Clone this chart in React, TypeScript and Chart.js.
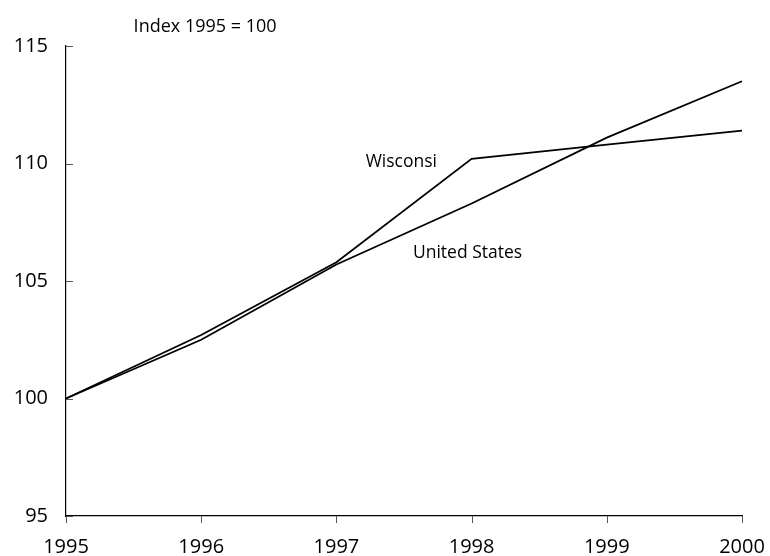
import React, { useEffect, useRef } from "react";
import { Chart, registerables } from "chart.js";

Chart.register(...registerables);

const years = ["1995", "1996", "1997", "1998", "1999", "2000"];
const wisconsin = [100, 102.7, 105.8, 110.2, 110.8, 111.4];
const unitedStates = [100, 102.5, 105.7, 108.3, 111.1, 113.5];
const yTicks = [95, 100, 105, 110, 115];
const FONT = "'Open Sans', 'DejaVu Sans', sans-serif";

const labelsPlugin = {
  id: "labelsAndTicks",
  afterDraw(chart: any) {
    const ctx = chart.ctx;
    const xs = chart.scales.x;
    const ys = chart.scales.y;
    const { left, bottom } = chart.chartArea;
    ctx.save();
    ctx.strokeStyle = "#555";
    ctx.lineWidth = 1;
    yTicks.forEach((v) => {
      const y = Math.round(ys.getPixelForValue(v)) + 0.5;
      ctx.beginPath();
      ctx.moveTo(left, y);
      ctx.lineTo(left + 7, y);
      ctx.stroke();
    });
    years.forEach((_, i) => {
      const x = Math.round(xs.getPixelForValue(i)) + 0.5;
      ctx.beginPath();
      ctx.moveTo(x, bottom);
      ctx.lineTo(x, bottom + 7);
      ctx.stroke();
    });
    ctx.fillStyle = "#000";
    ctx.textBaseline = "middle";
    ctx.textAlign = "left";
    ctx.font = `18px ${FONT}`;
    ctx.fillText("Index 1995 = 100", xs.getPixelForValue(0.5), ys.getPixelForValue(115.8));
    ctx.font = `17.5px ${FONT}`;
    ctx.textAlign = "center";
    ctx.fillText("Wisconsi", xs.getPixelForValue(2.48), ys.getPixelForValue(110.05));
    ctx.fillText("United States", xs.getPixelForValue(2.97), ys.getPixelForValue(106.2));
    ctx.restore();
  },
};

export default function App() {
  const ref = useRef<HTMLCanvasElement>(null);
  useEffect(() => {
    const chart = new Chart(ref.current!, {
      type: "line",
      data: {
        labels: years,
        datasets: [
          { label: "Wisconsin", data: wisconsin, borderColor: "#000", borderWidth: 1.8, pointRadius: 0, tension: 0, fill: false },
          { label: "United States", data: unitedStates, borderColor: "#000", borderWidth: 1.8, pointRadius: 0, tension: 0, fill: false },
        ],
      },
      options: {
        animation: false,
        responsive: false,
        maintainAspectRatio: false,
        layout: { padding: { top: 46, right: 28, left: 0, bottom: 0 } },
        plugins: { legend: { display: false }, tooltip: { enabled: false }, title: { display: false } },
        scales: {
          x: {
            type: "category",
            offset: false,
            grid: { display: true, drawOnChartArea: false, drawTicks: false },
            border: { display: true, color: "#000", width: 1.2 },
            ticks: { color: "#000", font: { family: FONT, size: 20 }, padding: 19, maxRotation: 0, autoSkip: false },
            afterFit: (s: any) => { s.height = 40; s.paddingLeft = 0; s.paddingRight = 0; },
          },
          y: {
            min: 95,
            max: 115,
            grid: { display: true, drawOnChartArea: false, drawTicks: false },
            border: { display: true, color: "#000", width: 1.2 },
            ticks: { color: "#000", stepSize: 5, font: { family: FONT, size: 20 }, padding: 18 },
            afterFit: (s: any) => { s.width = 66; s.paddingTop = 0; s.paddingBottom = 0; },
          },
        },
      },
      plugins: [labelsPlugin],
    });
    return () => chart.destroy();
  }, []);
  return (
    <div style={{ position: "fixed", left: 0, top: 0, width: 770, height: 556, background: "#fff" }}>
      <canvas ref={ref} width={770} height={556} style={{ display: "block" }} />
    </div>
  );
}
